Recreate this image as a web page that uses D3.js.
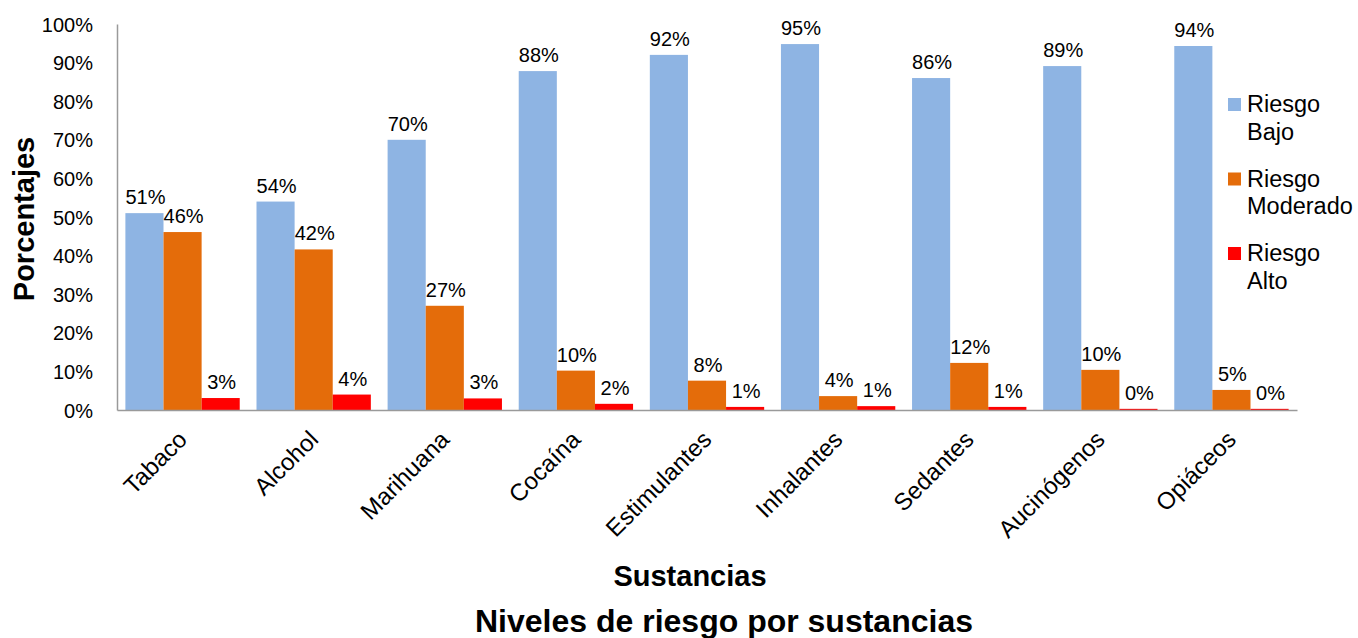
<!DOCTYPE html>
<html>
<head>
<meta charset="utf-8">
<script src="https://cdn.jsdelivr.net/npm/d3@7"></script>
<style>
  html, body { margin: 0; padding: 0; background: #fff; }
  svg text { font-family: "Liberation Sans", Arial, sans-serif; fill: #000; }
</style>
</head>
<body>
<svg id="chart" width="1358" height="638"></svg>
<script>
// Substances and risk levels (percent of respondents)
const categories = ["Tabaco", "Alcohol", "Marihuana", "Cocaína", "Estimulantes",
                    "Inhalantes", "Sedantes", "Aucinógenos", "Opiáceos"];
const seriesNames = ["Riesgo Bajo", "Riesgo Moderado", "Riesgo Alto"];
const riesgoBajo     = [51.0, 54.0, 70.0, 87.8, 92.0, 94.8, 86.0, 89.1, 94.3];
const riesgoModerado = [46.1, 41.6, 27.0, 10.2, 7.6, 3.6, 12.2, 10.4, 5.2];
const riesgoAlto     = [3.1, 4.0, 3.0, 1.6, 0.8, 1.0, 0.8, 0.3, 0.3];
const yTicks = [0, 10, 20, 30, 40, 50, 60, 70, 80, 90, 100];
const colors = ["#8EB4E3", "#E46C0A", "#FF0000"];

const series = [riesgoBajo, riesgoModerado, riesgoAlto];

const svg = d3.select("#chart");
const plot = { left: 117, right: 1297, top: 24, bottom: 410 };

const x = d3.scaleBand().domain(categories).range([plot.left, plot.right]).paddingInner(0).paddingOuter(0);
const inner = d3.scaleBand().domain(d3.range(series.length)).range([0, x.bandwidth()])
  .paddingOuter(0.22).paddingInner(0);
const y = d3.scaleLinear().domain([0, 100]).range([plot.bottom, plot.top]);

const fmt = v => d3.format(".0f")(v) + "%";

// Bars
const groups = svg.append("g").selectAll("g")
  .data(categories)
  .join("g")
  .attr("transform", d => `translate(${x(d)},0)`);

groups.selectAll("rect")
  .data((d, i) => series.map((s, k) => ({ k, v: s[i] })))
  .join("rect")
  .attr("x", d => inner(d.k))
  .attr("width", inner.bandwidth())
  .attr("y", d => y(d.v))
  .attr("height", d => y(0) - y(d.v))
  .attr("fill", d => colors[d.k]);

// Value labels
groups.selectAll("text")
  .data((d, i) => series.map((s, k) => ({ k, v: s[i] })))
  .join("text")
  .attr("x", d => inner(d.k) + inner.bandwidth() / 2 + 1)
  .attr("y", d => y(d.v) - 9)
  .attr("text-anchor", "middle")
  .attr("font-size", 20)
  .text(d => fmt(d.v));

// Y axis
const yAxis = d3.axisLeft(y).tickValues(yTicks).tickSize(0).tickPadding(24)
  .tickFormat(d => d + "%");
const gy = svg.append("g").attr("transform", `translate(${plot.left},0)`).call(yAxis);
gy.select(".domain").attr("stroke", "#9a9a9a").attr("stroke-width", 1.5);
gy.selectAll("text").attr("font-size", 20).attr("dy", "0.35em")
  .attr("font-family", "Liberation Sans, Arial, sans-serif");

// X axis
const xAxis = d3.axisBottom(x).tickSize(0).tickFormat("");
const gx = svg.append("g").attr("transform", `translate(0,${plot.bottom})`).call(xAxis);
gx.select(".domain").attr("stroke", "#9a9a9a").attr("stroke-width", 1.5);

// Rotated category labels
svg.append("g").selectAll("text")
  .data(categories)
  .join("text")
  .attr("transform", d => `translate(${x(d) + x.bandwidth() / 2 + 6},${441}) rotate(-45)`)
  .attr("text-anchor", "end")
  .attr("font-size", 24)
  .text(d => d);

// Axis titles
svg.append("text")
  .attr("transform", `translate(34,219) rotate(-90)`)
  .attr("text-anchor", "middle")
  .attr("font-size", 29).attr("font-weight", "bold")
  .text("Porcentajes");

svg.append("text")
  .attr("x", 690).attr("y", 586)
  .attr("text-anchor", "middle")
  .attr("font-size", 29).attr("font-weight", "bold")
  .text("Sustancias");

svg.append("text")
  .attr("x", 724).attr("y", 632)
  .attr("text-anchor", "middle")
  .attr("font-size", 32).attr("font-weight", "bold")
  .text("Niveles de riesgo por sustancias");

// Legend
const legend = svg.append("g").selectAll("g")
  .data(seriesNames)
  .join("g")
  .attr("transform", (d, i) => `translate(1228,${98 + i * 74.5})`);
legend.append("rect").attr("width", 13).attr("height", 13).attr("fill", (d, i) => colors[i]);
legend.append("text")
  .attr("x", 19).attr("y", 14)
  .attr("font-size", 23.5)
  .selectAll("tspan")
  .data(d => { const p = d.split(" "); return [p[0], p.slice(1).join(" ")]; })
  .join("tspan")
  .attr("x", 19)
  .attr("dy", (d, j) => j === 0 ? 0 : 27.5)
  .text(d => d);
</script>
</body>
</html>
